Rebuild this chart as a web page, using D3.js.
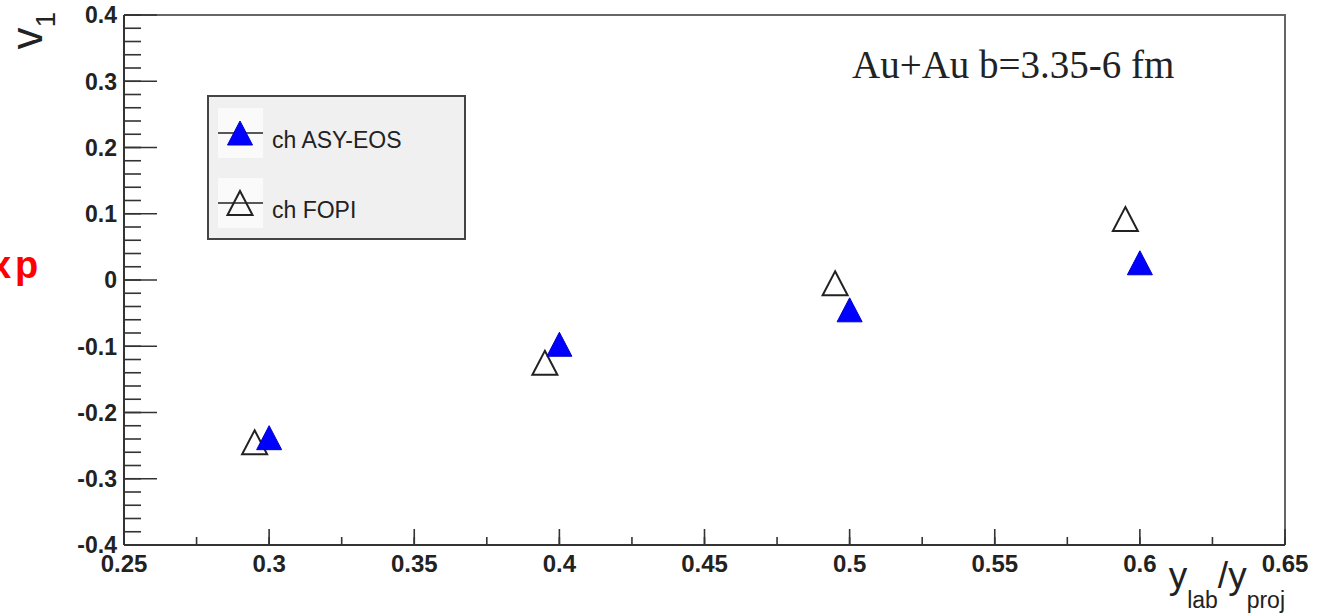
<!DOCTYPE html>
<html>
<head>
<meta charset="utf-8">
<script src="https://cdn.jsdelivr.net/npm/d3@7"></script>
<style>
  html, body { margin: 0; padding: 0; background: #fff; }
  svg { display: block; }
</style>
</head>
<body>
<svg id="chart" width="1319" height="616"></svg>
<script>
// Directed flow v1 of charged particles vs normalised rapidity
const xTicks = [0.25, 0.3, 0.35, 0.4, 0.45, 0.5, 0.55, 0.6, 0.65];
const xTickLabels = ["0.25", "0.3", "0.35", "0.4", "0.45", "0.5", "0.55", "0.6", "0.65"];
const yTicks = [-0.4, -0.3, -0.2, -0.1, 0, 0.1, 0.2, 0.3, 0.4];
const yTickLabels = ["-0.4", "-0.3", "-0.2", "-0.1", "0", "0.1", "0.2", "0.3", "0.4"];

const asyX = [0.3, 0.4, 0.5, 0.6];
const asyV1 = [-0.238, -0.097, -0.045, 0.026];
const fopiX = [0.295, 0.395, 0.495, 0.595];
const fopiV1 = [-0.245, -0.125, -0.005, 0.092];

const seriesNames = ["ch ASY-EOS", "ch FOPI"];
const annotation = "Au+Au b=3.35-6 fm";

const svg = d3.select("#chart");
const plotL = 124, plotR = 1285, plotT = 15, plotB = 545;

const x = d3.scaleLinear().domain([0.25, 0.65]).range([plotL, plotR]);
const y = d3.scaleLinear().domain([-0.4, 0.4]).range([plotB, plotT]);

// Minor ticks
const xMinor = d3.range(0.25, 0.6501, 0.025);
const yMinor = d3.range(-0.4, 0.4001, 0.02);

// Frame (top and right)
svg.append("path")
  .attr("d", `M${plotL},${plotT}H${plotR}V${plotB}`)
  .attr("fill", "none").attr("stroke", "#666").attr("stroke-width", 2);

// Y axis
const yAxis = svg.append("g").attr("transform", `translate(${plotL},0)`);
yAxis.append("line").attr("x1", 0).attr("x2", 0).attr("y1", plotT).attr("y2", plotB)
  .attr("stroke", "#333").attr("stroke-width", 2);
yAxis.selectAll("line.minor").data(yMinor).join("line").attr("class", "minor")
  .attr("x1", 0).attr("x2", 17).attr("y1", d => y(d)).attr("y2", d => y(d))
  .attr("stroke", "#333").attr("stroke-width", 1.6);
yAxis.selectAll("line.major").data(yTicks).join("line").attr("class", "major")
  .attr("x1", 0).attr("x2", 33).attr("y1", d => y(d)).attr("y2", d => y(d))
  .attr("stroke", "#333").attr("stroke-width", 1.6);
yAxis.selectAll("text").data(yTicks).join("text")
  .attr("x", -7).attr("y", d => y(d)).attr("dy", "0.36em")
  .attr("text-anchor", "end")
  .attr("font-family", "Liberation Sans, Arial, sans-serif")
  .attr("font-weight", "bold").attr("font-size", 23).attr("fill", "#222")
  .text((d, i) => yTickLabels[i]);

// X axis
const xAxis = svg.append("g").attr("transform", `translate(0,${plotB})`);
xAxis.append("line").attr("x1", plotL).attr("x2", plotR).attr("y1", 0).attr("y2", 0)
  .attr("stroke", "#333").attr("stroke-width", 2);
xAxis.selectAll("line.minor").data(xMinor).join("line").attr("class", "minor")
  .attr("x1", d => x(d)).attr("x2", d => x(d)).attr("y1", 0).attr("y2", -8)
  .attr("stroke", "#333").attr("stroke-width", 1.6);
xAxis.selectAll("line.major").data(xTicks).join("line").attr("class", "major")
  .attr("x1", d => x(d)).attr("x2", d => x(d)).attr("y1", 0).attr("y2", -16)
  .attr("stroke", "#333").attr("stroke-width", 1.6);
xAxis.selectAll("text").data(xTicks).join("text")
  .attr("x", d => x(d)).attr("y", 27)
  .attr("text-anchor", "middle")
  .attr("font-family", "Liberation Sans, Arial, sans-serif")
  .attr("font-weight", "bold").attr("font-size", 24).attr("fill", "#222")
  .text((d, i) => xTickLabels[i]);

// Axis titles
const yTitle = svg.append("text")
  .attr("transform", "translate(42,12) rotate(-90)")
  .attr("text-anchor", "end")
  .attr("font-family", "Liberation Sans, Arial, sans-serif")
  .attr("fill", "#222");
yTitle.append("tspan").attr("font-size", 44).text("v");
yTitle.append("tspan").attr("font-size", 28).attr("dy", 13).text("1");

const xTitle = svg.append("text")
  .attr("x", plotR).attr("y", 588)
  .attr("text-anchor", "end")
  .attr("font-family", "Liberation Sans, Arial, sans-serif")
  .attr("fill", "#222");
xTitle.append("tspan").attr("font-size", 37).text("y");
xTitle.append("tspan").attr("font-size", 23).attr("dy", 20).text("lab");
xTitle.append("tspan").attr("font-size", 37).attr("dy", -20).text("/y");
xTitle.append("tspan").attr("font-size", 23).attr("dy", 20).text("proj");

// Red side label, running off the left edge
svg.append("text")
  .attr("x", "-10 15").attr("y", 278)
  .attr("font-family", "Liberation Sans, Arial, sans-serif")
  .attr("font-weight", "bold").attr("font-size", 38).attr("fill", "#ff0000")
  .text("xp");

// Annotation
svg.append("text")
  .attr("x", 852).attr("y", 78)
  .attr("font-family", "Liberation Serif, Times New Roman, serif")
  .attr("font-size", 39).attr("fill", "#222")
  .text(annotation);

// Triangle marker path centred on (0,0)
const triW = 25, triH = 24;
const triPath = `M0,${-triH / 2}L${triW / 2},${triH / 2}L${-triW / 2},${triH / 2}Z`;

function openTri(g) {
  g.attr("d", triPath).attr("fill", "none").attr("stroke", "#222").attr("stroke-width", 2);
}
function fullTri(g) {
  g.attr("d", triPath).attr("fill", "#0000ff").attr("stroke", "#0000cc").attr("stroke-width", 1);
}

// Data points
svg.append("g").selectAll("path").data(fopiX).join("path")
  .attr("transform", (d, i) => `translate(${x(d)},${y(fopiV1[i])})`)
  .call(openTri);
svg.append("g").selectAll("path").data(asyX).join("path")
  .attr("transform", (d, i) => `translate(${x(d)},${y(asyV1[i])})`)
  .call(fullTri);

// Legend
const legend = svg.append("g");
legend.append("rect").attr("x", 208).attr("y", 96).attr("width", 257).attr("height", 143)
  .attr("fill", "#f0f0f0").attr("stroke", "#444").attr("stroke-width", 2);
const entryY = [133, 203];
entryY.forEach((ey, i) => {
  legend.append("rect").attr("x", 218).attr("y", ey - 25).attr("width", 45).attr("height", 50)
    .attr("fill", "#fafafa");
  legend.append("line").attr("x1", 218).attr("x2", 263).attr("y1", ey).attr("y2", ey)
    .attr("stroke", "#222").attr("stroke-width", 1.6);
  legend.append("path").attr("transform", `translate(240,${ey})`)
    .call(i === 0 ? fullTri : openTri);
  legend.append("text").attr("x", 272).attr("y", ey + 15)
    .attr("font-family", "Liberation Sans, Arial, sans-serif")
    .attr("font-size", 23).attr("fill", "#222")
    .text(seriesNames[i]);
});
</script>
</body>
</html>
